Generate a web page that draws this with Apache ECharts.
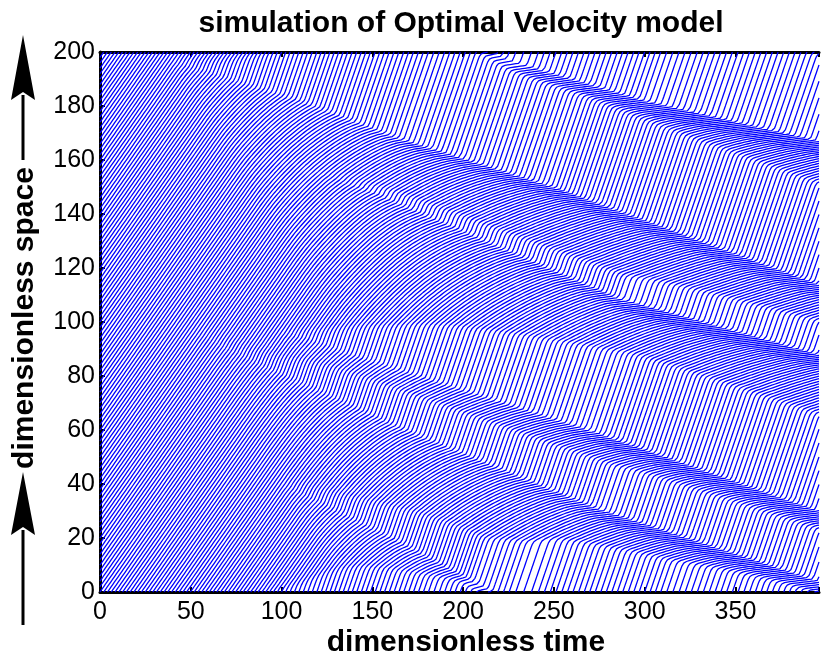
<!DOCTYPE html>
<html><head><meta charset="utf-8">
<script src="https://cdn.jsdelivr.net/npm/echarts@6/dist/echarts.min.js"></script>
<style>html,body{margin:0;padding:0;background:#fff}#c{width:822px;height:664px}</style>
</head><body><div id="c"></div>
<script>
// ---- data ----
const titleText = 'simulation of Optimal Velocity model';
const xName = 'dimensionless time';
const yName = 'dimensionless space';
const timeTicks = [0, 50, 100, 150, 200, 250, 300, 350];
const spaceTicks = [0, 20, 40, 60, 80, 100, 120, 140, 160, 180, 200];
const carCount = 100;          // vehicles on the ring
const roadLength = 200;        // ring length
const timeEnd = 396;           // right edge of the plot
const sensitivity = 2.0;       // OV sensitivity a
// jam bands: time, front position (unwrapped), band width, speed inside the jam
const jamA_t = [100, 164, 225, 300, 396];
const jamA_s = [40, 19, -3, -18, -33];
const jamA_w = [1, 2, 3.5, 4.5, 5];
const jamA_u = [0.8, 0.3, 0.1, 0.08, 0.08];
const jamB_t = [40, 110, 165, 250, 396];
const jamB_s = [196, 182, 168, 150, 114];
const jamB_w = [1, 1.5, 2.5, 4, 5];
const jamB_u = [0.8, 0.4, 0.12, 0.08, 0.08];
const jamC_t = [90, 154, 285, 396];
const jamC_s = [163, 147, 109, 88];
const jamC_w = [1, 2, 4, 5];
const jamC_u = [0.8, 0.3, 0.08, 0.08];
const jamD_t = [100, 162, 274, 396];
const jamD_s = [96, 83, 59, 30];
const jamD_w = [1, 2, 4, 5];
const jamD_u = [0.8, 0.35, 0.08, 0.08];
const jamE_t = [50, 92, 165, 274, 396];
const jamE_s = [96, 83, 61, 31, 4];
const jamE_w = [0.5, 1, 2, 4, 4.5];
const jamE_u = [0.9, 0.7, 0.3, 0.08, 0.08];

// ---- optimal velocity simulation ----
const jams = [
  {t: jamA_t, s: jamA_s, w: jamA_w, u: jamA_u}, {t: jamB_t, s: jamB_s, w: jamB_w, u: jamB_u},
  {t: jamC_t, s: jamC_s, w: jamC_w, u: jamC_u}, {t: jamD_t, s: jamD_s, w: jamD_w, u: jamD_u},
  {t: jamE_t, s: jamE_s, w: jamE_w, u: jamE_u}
];
const ovV = h => Math.tanh(h - 2) + Math.tanh(2);
function bandAt(b, t) {
  const T = b.t, n = T.length;
  if (t < T[0]) return null;
  if (t >= T[n - 1]) return {s: b.s[n - 1], w: b.w[n - 1], u: b.u[n - 1]};
  let k = 0; while (k < n - 2 && t > T[k + 1]) k++;
  const f = (t - T[k]) / (T[k + 1] - T[k]);
  const lerp = a => a[k] + f * (a[k + 1] - a[k]);
  return {s: lerp(b.s), w: lerp(b.w), u: lerp(b.u)};
}
const mod = (a, m) => ((a % m) + m) % m;
const N = carCount, L = roadLength, h0 = L / N;
const dt = 0.05, recEvery = 10, ramp = 3;
let xs = [], vs = [];
for (let i = 0; i < N; i++) { xs.push(h0 * i); vs.push(ovV(h0)); }
const traj = xs.map(x => [[0, x]]);
const steps = Math.round(timeEnd / dt);
for (let k = 1; k <= steps; k++) {
  const t = k * dt;
  const bands = jams.map(b => bandAt(b, t)).filter(Boolean);
  const nv = new Array(N);
  for (let i = 0; i < N; i++) {
    const h = xs[(i + 1) % N] - xs[i] + (i === N - 1 ? L : 0);
    let target = ovV(h);
    for (const b of bands) {
      const d = mod(b.s - xs[i], L);
      let cap = 9;
      if (d < b.w) cap = b.u;
      else if (d < b.w + ramp) cap = b.u + (2 - b.u) * (d - b.w) / ramp;
      if (cap < target) target = cap;
    }
    nv[i] = Math.max(0, vs[i] + sensitivity * (target - vs[i]) * dt);
  }
  for (let i = 0; i < N; i++) { vs[i] = nv[i]; xs[i] += vs[i] * dt; }
  if (k % recEvery === 0) for (let i = 0; i < N; i++) traj[i].push([t, xs[i]]);
}
// wrap onto the ring, breaking the line at each crossing
const series = traj.map(pts => {
  const data = [];
  for (let j = 0; j < pts.length; j++) {
    const [t, x] = pts[j];
    if (j > 0) {
      const [tp, xp] = pts[j - 1];
      const kp = Math.floor(xp / L), kc = Math.floor(x / L);
      if (kc > kp) {
        const tc = tp + (kc * L - xp) / (x - xp) * (t - tp);
        data.push([tc, L]); data.push([tc, '-']); data.push([tc, 0]);
      }
    }
    data.push([t, mod(x, L)]);
  }
  return {type: 'line', data, showSymbol: false, symbol: 'none', silent: true,
    lineStyle: {color: '#0000ff', width: 1.3}, animation: false, clip: true, connectNulls: false};
});

const font = '"Liberation Sans", Arial, sans-serif';
const axisCommon = {
  axisLine: {show: true, lineStyle: {color: '#000', width: 3}},
  axisTick: {show: true, inside: true, length: 5, lineStyle: {color: '#000', width: 2}},
  splitLine: {show: false}
};
function arrow(tipY, baseY, endY) {
  return [
    {type: 'rect', shape: {x: 21.5, y: baseY - 5, width: 3, height: endY - baseY + 5}, style: {fill: '#000'}},
    {type: 'polygon', shape: {points: [[23, tipY], [35, baseY], [23, baseY - 8], [11, baseY]]}, style: {fill: '#000'}}
  ];
}
const chart = echarts.init(document.getElementById('c'), null, {renderer: 'canvas'});
chart.setOption({
  backgroundColor: '#fff',
  animation: false,
  grid: {left: 100, top: 52, right: 0, bottom: 72, containLabel: false},
  xAxis: [
    Object.assign({type: 'value', min: 0, max: timeEnd, interval: 50, position: 'bottom',
      axisLabel: {color: '#000', fontSize: 25, fontFamily: font, margin: 8,
        formatter: v => timeTicks.includes(v) ? String(v) : ''}}, axisCommon),
    Object.assign({type: 'value', min: 0, max: timeEnd, interval: 50, position: 'top',
      axisLabel: {show: false}}, axisCommon)
  ],
  yAxis: [
    Object.assign({type: 'value', min: 0, max: 200, interval: 20, position: 'left',
      axisLabel: {color: '#000', fontSize: 25, fontFamily: font, margin: 5,
        formatter: v => spaceTicks.includes(v) ? String(v) : ''}}, axisCommon)
  ],
  series,
  graphic: [
    {type: 'text', x: 461, y: 24, style: {text: titleText, font: 'bold 30px ' + font, fill: '#000', textAlign: 'center', textVerticalAlign: 'middle'}},
    {type: 'text', x: 466, y: 643, style: {text: xName, font: 'bold 30px ' + font, fill: '#000', textAlign: 'center', textVerticalAlign: 'middle'}},
    {type: 'text', x: 25, y: 318, rotation: Math.PI / 2, style: {text: yName, font: 'bold 30px ' + font, fill: '#000', textAlign: 'center', textVerticalAlign: 'middle'}},
    ...arrow(35, 100, 160),
    ...arrow(472, 535, 625)
  ]
});
</script></body></html>
